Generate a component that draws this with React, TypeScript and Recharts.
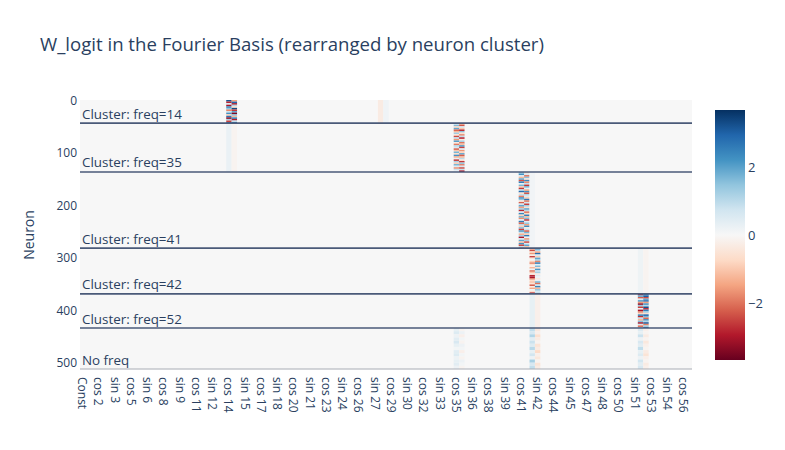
import { ComposedChart, ReferenceArea, ReferenceLine, Scatter, XAxis, YAxis } from "recharts"

const FONT = '"Open Sans", verdana, arial, sans-serif'
const INK = "#2a3f5f"

const clusterNames = ["freq=14", "freq=35", "freq=41", "freq=42", "freq=52", "No freq"]
const clusterSizes = [44, 93, 145, 87, 65, 78]

const basisLabels: string[] = ["Const"]
for (let k = 1; k <= 56; k++) basisLabels.push(`cos ${k}`, `sin ${k}`)

const xTicks = basisLabels.map((_, i) => i).filter((i) => i % 3 === 0)
const yTicks = [0, 100, 200, 300, 400, 500]
const colorTicks = [2, 0, -2]
const zLimit = 3.65

// plotly RdBu, low (red) -> high (blue)
const rdbu = [
  [103, 0, 31], [178, 24, 43], [214, 96, 77], [244, 165, 130], [253, 219, 199],
  [247, 247, 247], [209, 229, 240], [146, 197, 222], [67, 147, 195], [33, 102, 172], [5, 48, 97],
]

const freq14Cos = [3.2, -2.8, 0.6, -3.0, 2.4, 1.5, -1.8, 0.8, 2.2, -0.9, 2.7, -3.3, 1.2, -2.5, 3.0]
const freq14Sin = [-1.5, 2.9, -3.1, 1.1, -0.7, 3.3, -2.6, 2.0, -3.4, 1.6, -1.2, 2.5, -2.9, 0.9, 2.8]

const freq35Cos = [0.4, 1.6, -0.8, 1.9, -2.1, -1.2, 1.3, -0.5, -2.4, 0.9, -1.6, 2.0, -0.3, -1.9, 1.1, 0.6,
  -2.2, -1.0, 1.7, -0.7, 2.2, -1.4, 0.3, -2.6, 1.2, -0.9, 1.8, 0.5, -1.7, 0.8, 0.2]
const freq35Sin = [-1.4, -2.3, 0.7, -1.0, -2.7, 1.5, -0.6, -1.8, 0.9, -2.9, -0.4, 1.2, -2.0, -1.1, 2.1, -2.5,
  0.4, -1.6, -0.8, 1.9, -2.2, -1.3, 1.0, -0.5, -2.6, 1.4, -1.9, 0.6, -2.4, 0.8, -3.0]

const freq41Cos = [1.4, 2.2, 0.5, -1.2, 1.9, -2.3, 2.5, 0.3, 1.7, -1.0, -2.6, 1.1, 2.8, -0.6, 0.9, -1.9,
  2.3, 1.5, -0.4, -2.2, 0.7, 2.0, -1.5, 1.3, -2.8, 0.6, 2.4, -0.8, 1.8, -1.7, 0.4, 2.6, -2.1, 1.0, -0.9,
  1.6, -2.5, 2.1, 0.8, -1.3, 1.2, -3.0, 0.5, 1.9, -1.1, 2.2, -2.4, 0.9, -1.8]
const freq41Sin = [-0.8, 0.6, -2.1, 1.5, -0.5, 2.4, -1.7, 0.9, -2.6, 1.8, 0.3, -1.4, 2.2, -2.3, 1.1, 0.5,
  -1.0, 2.7, -1.9, 0.7, -2.5, 1.3, -0.6, 2.0, 1.0, -2.0, -0.7, 2.5, -1.2, 1.6, -2.7, 0.4, 1.4, -1.5, 2.3,
  -0.3, 0.8, -2.2, 1.7, -0.9, 2.6, 0.2, -1.6, 1.2, -2.4, 0.6, 1.9, -1.1, 0.9]

const freq42Cos = [-1.2, -2.4, -0.8, -1.6, -0.3, -2.6, -0.5, 0.1, -0.9, -1.8, -0.6, -0.2, -1.3, 0.2, -2.0,
  -1.0, -0.4, -2.8, -3.0, -1.9, -0.7, -1.1, -0.5, -2.2, -0.3, -1.4, 0.1, -0.6, -2.5]
const freq42Sin = [2.3, 1.1, -1.4, 2.8, 0.6, -0.9, 1.9, 1.3, -1.8, 2.5, 0.4, 1.6, -0.6, 2.1, 0.9, 1.2,
  -0.3, 0.5, 0.2, -0.4, 0.3, 1.7, -2.0, 0.8, 2.4, -1.2, 1.5, 0.6, 1.0]

const freq52Cos = [-2.9, 1.8, -2.2, 0.5, 2.1, -1.6, -3.3, 1.4, -2.5, 0.3, -3.0, -1.9, -0.8, 2.4, -2.7, 0.9,
  -1.3, 1.6, -3.1, 0.6, -2.0, 1.2]
const freq52Sin = [2.6, 3.0, -2.4, 1.9, 2.8, -1.5, 2.2, 1.0, 3.2, -2.8, 2.5, 1.4, -0.6, 2.9, 1.7, -2.1,
  2.3, 1.1, 3.1, -1.8, 1.3, 2.7]

const noFreqCos35 = [0.3, 0.5, 0.2, 0.4, 0.6, 0.3, 0.1, 0.4, 0.5, 0.2, 0.3, 0.4, 0.2]
const noFreqSin35 = [-0.1, 0.2, -0.2, 0.1, -0.1, 0.2, 0.1, -0.2, 0.1, -0.1, 0.2, 0.1, -0.1]
const noFreqCos42 = [0.9, 0.6, 1.1, 0.4, 0.8, 0.5, 1.0, 0.3, 0.7, 0.2, 1.2, 0.6, 0.9]
const noFreqSin42 = [-0.4, -0.2, -0.6, -0.3, -0.1, -0.5, -0.3, -0.7, -0.2, -0.4, -0.1, -0.5, -0.3]
const noFreqCos52 = [0.5, 0.3, 0.8, 0.2, 0.6, 0.4, 0.9, 0.3, 0.5, 0.2, 0.7, 0.4, 0.6]
const noFreqSin52 = [-0.2, -0.1, -0.3, -0.1, -0.4, -0.2, -0.1, -0.3, -0.5, -0.2, -0.1, -0.3, -0.2]

type Block = { cluster: string; basis: string; band: number; values: number[] }

const blocks: Block[] = [
  { cluster: "freq=14", basis: "cos 14", band: 3, values: freq14Cos },
  { cluster: "freq=14", basis: "sin 14", band: 3, values: freq14Sin },
  { cluster: "freq=35", basis: "cos 35", band: 3, values: freq35Cos },
  { cluster: "freq=35", basis: "sin 35", band: 3, values: freq35Sin },
  { cluster: "freq=41", basis: "cos 41", band: 3, values: freq41Cos },
  { cluster: "freq=41", basis: "sin 41", band: 3, values: freq41Sin },
  { cluster: "freq=42", basis: "cos 42", band: 3, values: freq42Cos },
  { cluster: "freq=42", basis: "sin 42", band: 3, values: freq42Sin },
  { cluster: "freq=52", basis: "cos 52", band: 3, values: freq52Cos },
  { cluster: "freq=52", basis: "sin 52", band: 3, values: freq52Sin },
  { cluster: "No freq", basis: "cos 35", band: 6, values: noFreqCos35 },
  { cluster: "No freq", basis: "sin 35", band: 6, values: noFreqSin35 },
  { cluster: "No freq", basis: "cos 42", band: 6, values: noFreqCos42 },
  { cluster: "No freq", basis: "sin 42", band: 6, values: noFreqSin42 },
  { cluster: "No freq", basis: "cos 52", band: 6, values: noFreqCos52 },
  { cluster: "No freq", basis: "sin 52", band: 6, values: noFreqSin52 },
]

// whole-cluster faint columns
const faintCells = [
  { cluster: "freq=14", basis: "cos 28", z: -0.3 },
  { cluster: "freq=14", basis: "sin 28", z: 0.15 },
  { cluster: "freq=35", basis: "cos 14", z: 0.25 },
  { cluster: "freq=35", basis: "sin 14", z: -0.1 },
  { cluster: "freq=41", basis: "cos 42", z: 0.12 },
  { cluster: "freq=42", basis: "cos 52", z: 0.18 },
  { cluster: "freq=42", basis: "sin 52", z: -0.1 },
  { cluster: "freq=52", basis: "cos 42", z: 0.3 },
  { cluster: "freq=52", basis: "sin 42", z: -0.2 },
]

const clusterStarts = clusterSizes.map((_, i) => clusterSizes.slice(0, i).reduce((a, b) => a + b, 0))
const lastNeuron = clusterSizes.reduce((a, b) => a + b, 0) - 1

function colorFor(z: number) {
  const t = Math.min(1, Math.max(0, (z + zLimit) / (2 * zLimit))) * (rdbu.length - 1)
  const i = Math.min(rdbu.length - 2, Math.floor(t))
  const f = t - i
  const c = rdbu[i].map((v, k) => Math.round(v + (rdbu[i + 1][k] - v) * f))
  return `rgb(${c[0]},${c[1]},${c[2]})`
}

type CellRow = { col: number; y0: number; y1: number; z: number }

const cells: CellRow[] = []
for (const b of blocks) {
  const ci = clusterNames.indexOf(b.cluster)
  const start = clusterStarts[ci]
  const end = start + clusterSizes[ci]
  const col = basisLabels.indexOf(b.basis)
  b.values.forEach((z, i) => {
    const s = start + i * b.band
    const e = Math.min(s + b.band, end)
    if (s < end) cells.push({ col, y0: s - 0.5, y1: e - 0.5, z })
  })
}
for (const f of faintCells) {
  const ci = clusterNames.indexOf(f.cluster)
  const s = clusterStarts[ci]
  cells.push({ col: basisLabels.indexOf(f.basis), y0: s - 0.5, y1: s + clusterSizes[ci] - 0.5, z: f.z })
}

const anchor = [
  { x: -0.5, y: -0.5 },
  { x: basisLabels.length - 0.5, y: lastNeuron + 0.5 },
]

const BasisTick = ({ x, y, payload }: any) => (
  <text
    x={x}
    y={y + 8}
    transform={`rotate(90, ${x}, ${y + 8})`}
    textAnchor="start"
    dominantBaseline="central"
    fontSize={12}
    fontFamily={FONT}
    fill={INK}
  >
    {basisLabels[payload.value]}
  </text>
)

const clusterLabel = (name: string) => (props: any) => {
  const vb = props.viewBox ?? {}
  return (
    <text x={(vb.x ?? 0) + 2} y={(vb.y ?? 0) - 4.5} fontSize={13.4} fontFamily={FONT} fill={INK}>
      {name === "No freq" ? name : `Cluster: ${name}`}
    </text>
  )
}

const CB = { x: 715, y: 110, w: 30, h: 250 }

export default function App() {
  return (
    <div style={{ position: "absolute", left: 0, top: 0, width: 785, height: 450, background: "#fff" }}>
      <ComposedChart width={785} height={450} margin={{ top: 100, right: 93, bottom: 21, left: 40 }}>
        <XAxis
          type="number"
          dataKey="x"
          domain={[-0.5, basisLabels.length - 0.5]}
          ticks={xTicks}
          interval={0}
          allowDataOverflow
          height={60}
          tickSize={0}
          tickMargin={0}
          tick={<BasisTick />}
          axisLine={{ stroke: "#a8acb4", strokeWidth: 1 }}
          tickLine={false}
        />
        <YAxis
          type="number"
          dataKey="y"
          domain={[-0.5, lastNeuron + 0.5]}
          reversed
          ticks={yTicks}
          interval={0}
          allowDataOverflow
          width={40}
          tickSize={0}
          tickMargin={3}
          axisLine={false}
          tickLine={false}
          tick={{ fill: INK, fontSize: 12, fontFamily: FONT }}
        />
        <ReferenceArea
          x1={-0.5}
          x2={basisLabels.length - 0.5}
          y1={-0.5}
          y2={lastNeuron + 0.5}
          fill={colorFor(0)}
          fillOpacity={1}
          stroke="none"
        />
        {cells.map((c, i) => (
          <ReferenceArea
            key={i}
            x1={c.col - 0.5}
            x2={c.col + 0.5}
            y1={c.y0}
            y2={c.y1}
            fill={colorFor(c.z)}
            fillOpacity={1}
            stroke="none"
          />
        ))}
        {clusterNames.map((name, i) => (
          <ReferenceLine
            key={name}
            y={clusterStarts[i] + clusterSizes[i] - 0.5}
            stroke="#4a5a78"
            strokeWidth={1.6}
            strokeOpacity={i === clusterNames.length - 1 ? 0 : 1}
            label={clusterLabel(name)}
          />
        ))}
        <Scatter data={anchor} dataKey="y" shape={() => <g />} isAnimationActive={false} />
      </ComposedChart>
      <svg
        width={785}
        height={450}
        style={{ position: "absolute", left: 0, top: 0, pointerEvents: "none" }}
        fontFamily={FONT}
      >
        <defs>
          <linearGradient id="rdbu" x1="0" y1="1" x2="0" y2="0">
            {rdbu.map((c, i) => (
              <stop key={i} offset={i / (rdbu.length - 1)} stopColor={`rgb(${c[0]},${c[1]},${c[2]})`} />
            ))}
          </linearGradient>
        </defs>
        <text x={40} y={51} fontSize={18.6} fill={INK}>
          W_logit in the Fourier Basis (rearranged by neuron cluster)
        </text>
        <text x={28} y={235} fontSize={14} fill={INK} textAnchor="middle" dominantBaseline="central"
          transform="rotate(-90, 28, 235)">
          Neuron
        </text>
        <rect x={CB.x} y={CB.y} width={CB.w} height={CB.h} fill="url(#rdbu)" />
        {colorTicks.map((v) => (
          <text
            key={v}
            x={CB.x + CB.w + 3}
            y={CB.y + ((zLimit - v) / (2 * zLimit)) * CB.h}
            fontSize={13}
            fill={INK}
            dominantBaseline="central"
          >
            {v < 0 ? `\u2212${-v}` : v}
          </text>
        ))}
      </svg>
    </div>
  )
}
